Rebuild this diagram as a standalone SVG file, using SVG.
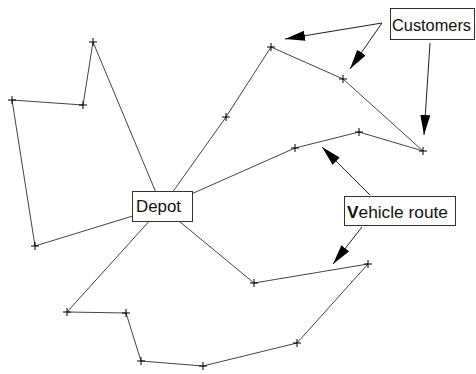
<svg xmlns="http://www.w3.org/2000/svg" width="476" height="374" viewBox="0 0 476 374">
<style>
.route{fill:none;stroke:#444;stroke-width:1}
.arrow{fill:none;stroke:#222;stroke-width:1}
.box{fill:#fff;stroke:#333;stroke-width:1}
.lbl{font-family:"Liberation Sans",Arial,sans-serif;font-size:16px;fill:#111}
.cust{stroke:#000;stroke-width:1;fill:none}
</style>
<defs>
<marker id="ah" markerUnits="userSpaceOnUse" markerWidth="20" markerHeight="10" refX="20" refY="5" orient="auto">
<path d="M0,0 L20,5 L0,10 z" fill="#000"/>
</marker>
<path id="plus" d="M-4,0 H4 M0,-4 V4"/>
</defs>
<rect width="476" height="374" fill="#fff"/>
<g id="connectors">
<polyline class="route" points="162,207 93,42 83,105 12,100 35,246 162,207"/>
<polyline class="route" points="162,207 226,117 271,47 343,79 423,151 359,132 295,148 162,207"/>
<polyline class="route" points="162,207 254,283 368,264 297,343 203,366 141,361 126,313 67,312 162,207"/>
<line class="arrow" x1="382" y1="23" x2="285" y2="39" marker-end="url(#ah)"/>
<line class="arrow" x1="382" y1="23" x2="350" y2="69" marker-end="url(#ah)"/>
<line class="arrow" x1="430" y1="43" x2="424" y2="135" marker-end="url(#ah)"/>
<line class="arrow" x1="370" y1="195" x2="322" y2="147" marker-end="url(#ah)"/>
<line class="arrow" x1="362" y1="227" x2="333" y2="264" marker-end="url(#ah)"/>
</g>
<g id="customers" class="cust">
<use href="#plus" x="93" y="42"/>
<use href="#plus" x="83" y="105"/>
<use href="#plus" x="12" y="100"/>
<use href="#plus" x="35" y="246"/>
<use href="#plus" x="226" y="117"/>
<use href="#plus" x="271" y="47"/>
<use href="#plus" x="343" y="79"/>
<use href="#plus" x="423" y="151"/>
<use href="#plus" x="359" y="132"/>
<use href="#plus" x="295" y="148"/>
<use href="#plus" x="254" y="283"/>
<use href="#plus" x="368" y="264"/>
<use href="#plus" x="297" y="343"/>
<use href="#plus" x="203" y="366"/>
<use href="#plus" x="141" y="361"/>
<use href="#plus" x="126" y="313"/>
<use href="#plus" x="67" y="312"/>
</g>
<g id="depot">
<rect class="box" x="132.5" y="191.5" width="60" height="30"/>
<text class="lbl" x="136" y="212" textLength="45" lengthAdjust="spacingAndGlyphs">Depot</text>
</g>
<g id="customers-label">
<rect class="box" x="390.5" y="8.5" width="84" height="31"/>
<text class="lbl" x="392" y="31" textLength="79" lengthAdjust="spacingAndGlyphs">Customers</text>
</g>
<g id="vehicle-route-label">
<rect class="box" x="344.5" y="196.5" width="111" height="29"/>
<text class="lbl" x="347" y="218" textLength="101" lengthAdjust="spacingAndGlyphs"><tspan font-weight="bold">V</tspan>ehicle route</text>
</g>
</svg>
